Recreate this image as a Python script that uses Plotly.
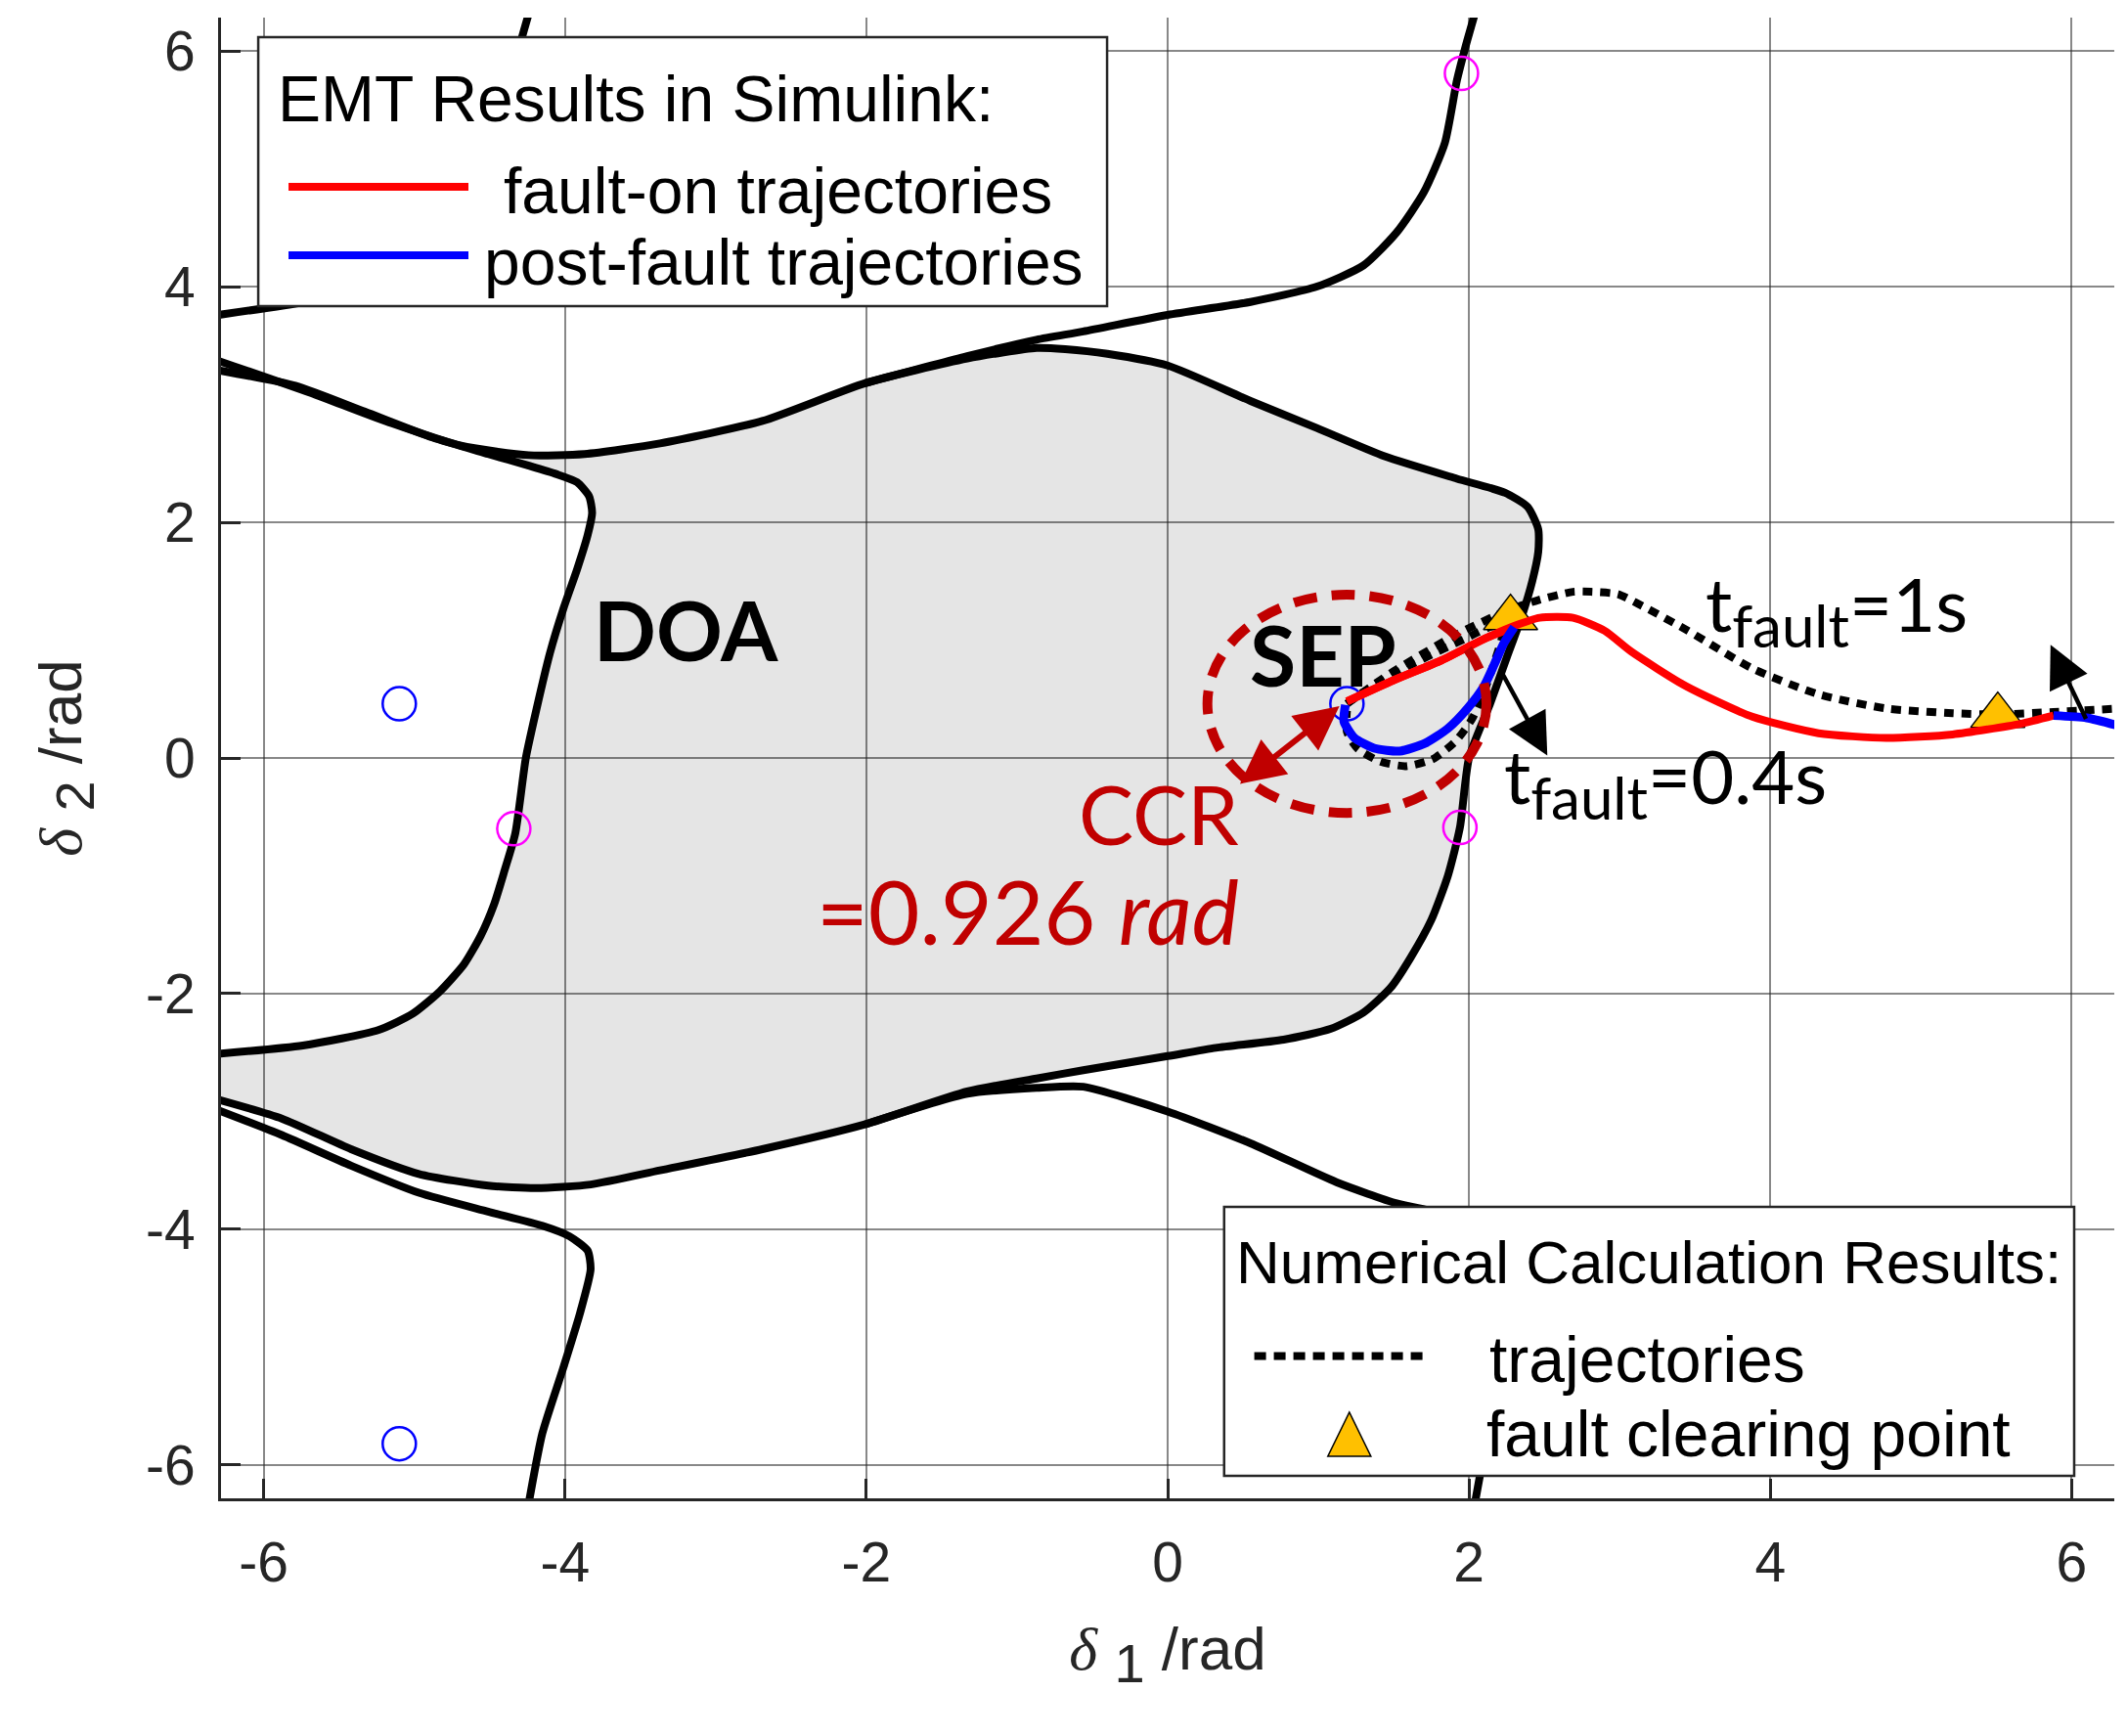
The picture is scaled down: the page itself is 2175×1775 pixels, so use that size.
import plotly.graph_objects as go

# ---- data (rad) ----
TICKS = [-6, -4, -2, 0, 2, 4, 6]
TICK_TEXT = ["-6", "-4", "-2", "0", "2", "4", "6"]
LIM = 6.2832

# DOA boundary, left branch (bottom-left edge -> top-left edge)
doa_a_x = [-6.30, -5.74, -5.24, -5.01, -4.83, -4.67, -4.56, -4.47, -4.40, -4.33, -4.26,
           -4.19, -4.10, -4.01, -3.92, -3.85, -3.82, -3.84, -3.92, -4.06, -4.24, -4.51,
           -4.88, -5.33, -5.79, -6.30]
doa_a_y = [-2.51, -2.44, -2.31, -2.17, -1.98, -1.75, -1.51, -1.24, -0.95, -0.64, 0.00,
           0.41, 0.89, 1.27, 1.60, 1.89, 2.08, 2.22, 2.34, 2.41, 2.48, 2.58,
           2.72, 2.94, 3.16, 3.29]

# DOA boundary, main branch (top-left edge -> right bulge -> bottom-left edge)
doa_b_x = [-6.30, -5.65, -5.15, -4.69, -4.24, -3.87, -3.37, -2.69, -2.01, -1.33, -0.87,
           -0.68, -0.40, 0.00, 0.55, 0.99, 1.44, 1.92, 2.24, 2.39, 2.46, 2.46, 2.42,
           2.35, 2.25, 2.14, 2.00, 1.94, 1.86, 1.75, 1.61, 1.48, 1.30, 1.08, 0.77,
           0.32, 0.00, -0.56, -0.87, -1.33, -2.01, -2.69, -3.37, -3.83, -4.19, -4.51,
           -4.97, -5.42, -5.88, -6.30]
doa_b_y = [3.37, 3.08, 2.84, 2.65, 2.57, 2.58, 2.67, 2.86, 3.18, 3.39, 3.48,
           3.47, 3.43, 3.33, 3.03, 2.80, 2.56, 2.37, 2.25, 2.13, 1.94, 1.75, 1.50,
           1.20, 0.85, 0.46, 0.00, -0.59, -1.00, -1.375, -1.70, -1.95, -2.16, -2.30, -2.39,
           -2.46, -2.53, -2.65, -2.72, -2.83, -3.11, -3.32, -3.50, -3.62, -3.65, -3.63,
           -3.53, -3.32, -3.06, -2.90]

# other stability-boundary branches
top_right_x = [-2.01, -1.33, -0.87, -0.56, 0.00, 0.55, 0.99, 1.30, 1.52, 1.70, 1.84, 1.92, 1.98, 2.04]
top_right_y = [3.18, 3.41, 3.55, 3.62, 3.76, 3.87, 4.00, 4.18, 4.46, 4.80, 5.22, 5.75, 6.05, 6.32]
top_left_x = [-6.30, -5.73, -5.29, -4.98, -4.76, -4.58, -4.44, -4.36, -4.30, -4.24]
top_left_y = [3.76, 3.87, 4.00, 4.18, 4.46, 4.80, 5.22, 5.75, 6.05, 6.32]
bot_right_x = [-2.01, -1.33, -0.87, -0.56, 0.00, 0.55, 1.12, 1.52, 1.77, 2.31, 2.45, 2.38, 2.27, 2.13, 2.04]
bot_right_y = [-3.11, -2.85, -2.80, -2.79, -3.00, -3.27, -3.60, -3.78, -3.85, -4.06, -4.34, -4.71, -5.17, -5.73, -6.32]
bot_left_x = [-6.30, -5.88, -5.42, -4.97, -4.51, -4.15, -3.97, -3.85, -3.83, -3.90, -4.01, -4.15, -4.24]
bot_left_y = [-2.99, -3.20, -3.46, -3.69, -3.85, -3.97, -4.06, -4.18, -4.34, -4.71, -5.17, -5.73, -6.32]

# equilibrium points
sep_x, sep_y = 1.19, 0.46
ccr = 0.926
stable_x = [1.19, -5.10, -5.10]
stable_y = [0.46, 0.46, -5.82]
unstable_x = [1.95, -4.34, 1.94]
unstable_y = [5.81, -0.60, -0.59]

# EMT results: fault-on (red) and post-fault (blue)
faulton_04_x = [1.19, 1.50, 1.82, 2.10, 2.30]
faulton_04_y = [0.48, 0.66, 0.83, 1.01, 1.11]
faulton_1_x = [1.19, 1.50, 1.82, 2.10, 2.30, 2.47, 2.69, 2.90, 3.08, 3.44, 3.88, 4.32, 4.77, 5.21, 5.66, 5.88]
faulton_1_y = [0.48, 0.66, 0.83, 1.01, 1.12, 1.19, 1.19, 1.08, 0.90, 0.61, 0.35, 0.21, 0.17, 0.20, 0.29, 0.36]
post_04_x = [2.30, 2.23, 2.17, 2.10, 1.99, 1.86, 1.71, 1.54, 1.37, 1.24, 1.17, 1.18]
post_04_y = [1.11, 0.97, 0.80, 0.61, 0.42, 0.25, 0.125, 0.058, 0.083, 0.17, 0.31, 0.45]
post_1_x = [5.88, 6.10, 6.32]
post_1_y = [0.36, 0.34, 0.27]

# numerical calculation results
num_04_x = [1.19, 1.30, 1.60, 1.97, 2.17, 2.22, 2.17, 2.10, 2.02, 1.91, 1.76, 1.58, 1.41, 1.26, 1.19, 1.19]
num_04_y = [0.46, 0.56, 0.78, 1.01, 1.12, 1.05, 0.82, 0.56, 0.33, 0.14, -0.01, -0.07, -0.03, 0.08, 0.22, 0.40]
num_1_x = [1.19, 1.48, 1.92, 2.25, 2.46, 2.69, 2.81, 2.99, 3.12, 3.44, 3.88, 4.32, 4.77, 5.21, 5.51, 5.88, 6.32]
num_1_y = [0.46, 0.72, 1.05, 1.25, 1.34, 1.41, 1.41, 1.39, 1.31, 1.09, 0.76, 0.54, 0.42, 0.38, 0.37, 0.39, 0.42]
clear_x = [2.276, 5.51]
clear_y = [1.19, 0.36]

# annotation arrows (tail, tip)
ccr_arrow_x = [1.15, 0.48]
ccr_arrow_y = [0.45, -0.22]
arrow_04_x = [2.22, 2.52]
arrow_04_y = [0.72, 0.02]
arrow_1_x = [6.10, 5.86]
arrow_1_y = [0.32, 0.96]

RED = "#FF0000"
BLUE = "#0000FF"
DARKRED = "#C00000"
GOLD = "#FFC000"
TXT = "#262626"

fig = go.Figure()

# DOA shaded region
fig.add_trace(go.Scatter(
    x=doa_a_x + doa_b_x, y=doa_a_y + doa_b_y, mode="lines", fill="toself",
    fillcolor="rgba(0,0,0,0.1)", line=dict(width=0), hoverinfo="skip", showlegend=False,
))

for bx, by in [(doa_a_x, doa_a_y), (doa_b_x, doa_b_y), (top_right_x, top_right_y),
               (top_left_x, top_left_y), (bot_right_x, bot_right_y), (bot_left_x, bot_left_y)]:
    fig.add_trace(go.Scatter(
        x=bx, y=by, mode="lines", line=dict(color="black", width=8, shape="spline", smoothing=0.6),
        hoverinfo="skip", showlegend=False,
    ))

fig.add_trace(go.Scatter(
    x=stable_x, y=stable_y, mode="markers",
    marker=dict(symbol="circle-open", size=34, color=BLUE, line=dict(width=2.5)),
    showlegend=False,
))
fig.add_trace(go.Scatter(
    x=unstable_x, y=unstable_y, mode="markers",
    marker=dict(symbol="circle-open", size=34, color="#FF00FF", line=dict(width=2.5)),
    showlegend=False,
))

for nx_, ny_ in [(num_04_x, num_04_y), (num_1_x, num_1_y)]:
    fig.add_trace(go.Scatter(
        x=nx_, y=ny_, mode="lines",
        line=dict(color="black", width=8, dash="10px,8px", shape="spline", smoothing=0.6),
        showlegend=False,
    ))

fig.add_trace(go.Scatter(
    x=clear_x, y=clear_y, mode="markers",
    marker=dict(symbol="triangle-up", size=48, color=GOLD, line=dict(color="black", width=1.5)),
    showlegend=False,
))

for fx, fy in [(faulton_1_x, faulton_1_y), (faulton_04_x, faulton_04_y)]:
    fig.add_trace(go.Scatter(
        x=fx, y=fy, mode="lines", line=dict(color=RED, width=8, shape="spline", smoothing=0.6),
        showlegend=False,
    ))
for px_, py_ in [(post_04_x, post_04_y), (post_1_x, post_1_y)]:
    fig.add_trace(go.Scatter(
        x=px_, y=py_, mode="lines", line=dict(color=BLUE, width=9, shape="spline", smoothing=0.6),
        showlegend=False,
    ))

# arrows
fig.add_annotation(x=ccr_arrow_x[1], y=ccr_arrow_y[1], ax=ccr_arrow_x[0], ay=ccr_arrow_y[0],
                   xref="x", yref="y", axref="x", ayref="y",
                   text="", showarrow=True, arrowhead=2, arrowside="end+start",
                   arrowsize=1.5, arrowwidth=6, arrowcolor=DARKRED)
for arx, ary in [(arrow_04_x, arrow_04_y), (arrow_1_x, arrow_1_y)]:
    fig.add_annotation(x=arx[1], y=ary[1], ax=arx[0], ay=ary[0],
                       xref="x", yref="y", axref="x", ayref="y",
                       text="", showarrow=True, arrowhead=2, arrowsize=1.9,
                       arrowwidth=4.5, arrowcolor="black")

# critical clearing radius circle
fig.add_shape(type="circle", xref="x", yref="y", layer="above",
              x0=sep_x - ccr, x1=sep_x + ccr, y0=sep_y - ccr, y1=sep_y + ccr,
              line=dict(color=DARKRED, width=10, dash="24px,15px"))

# ---- legend boxes (drawn by hand, MATLAB style) ----
fig.add_shape(type="rect", xref="x", yref="y", layer="above",
              x0=-6.036, x1=-0.402, y0=3.835, y1=6.117,
              fillcolor="white", line=dict(color=TXT, width=2.5))
fig.add_shape(type="line", xref="x", yref="y", layer="above",
              x0=-5.835, x1=-4.641, y0=4.847, y1=4.847, line=dict(color=RED, width=8))
fig.add_shape(type="line", xref="x", yref="y", layer="above",
              x0=-5.835, x1=-4.641, y0=4.266, y1=4.266, line=dict(color=BLUE, width=8))

fig.add_shape(type="rect", xref="x", yref="y", layer="above",
              x0=0.375, x1=6.017, y0=-6.092, y1=-3.810,
              fillcolor="white", line=dict(color=TXT, width=2.5))
fig.add_shape(type="line", xref="x", yref="y", layer="above",
              x0=0.575, x1=1.717, y0=-5.076, y1=-5.076,
              line=dict(color="black", width=8, dash="12px,8px"))
fig.add_shape(type="path", xref="x", yref="y", layer="above",
              xsizemode="pixel", ysizemode="pixel", xanchor=1.206, yanchor=-5.744,
              path="M -22,-22 L 22,-22 L 0,23 Z",
              fillcolor=GOLD, line=dict(color="black", width=1.5))

LEG_FAMILY = "Liberation Sans, Arial"
legend_texts = [
    ("EMT Results in Simulink:", -5.92, 5.594, 66),
    ("fault-on trajectories", -4.42, 4.814, 66),
    ("post-fault trajectories", -4.55, 4.208, 66),
    ("Numerical Calculation Results:", 0.44, -4.275, 62),
    ("trajectories", 2.12, -5.104, 66),
    ("fault clearing point", 2.10, -5.736, 66),
]
for txt, tx, ty, fs in legend_texts:
    fig.add_annotation(x=tx, y=ty, xref="x", yref="y", text=txt, showarrow=False,
                       xanchor="left", yanchor="middle",
                       font=dict(family=LEG_FAMILY, size=fs, color="black"))

# ---- labels ----
LBL = "Lato, Open Sans, sans-serif"
SUB = "<sub><span style=\"font-size:60px\">fault</span></sub>"
fig.add_annotation(x=-3.20, y=1.095, text="<b>DOA</b>", showarrow=False,
                   font=dict(family=LBL, size=84, color="black"))
fig.add_annotation(x=1.03, y=0.88, text="<b>SEP</b>", showarrow=False,
                   font=dict(family=LBL, size=86, color="black"))
fig.add_annotation(x=0.49, y=-0.465, text="CCR", showarrow=False, xanchor="right",
                   font=dict(family=LBL, size=84, color=DARKRED))
fig.add_annotation(x=0.49, y=-1.287, text="=0.926 <i>rad</i>", showarrow=False, xanchor="right",
                   font=dict(family=LBL, size=91, color=DARKRED))
fig.add_annotation(x=3.56, y=1.26, text="t" + SUB + "=1s", showarrow=False, xanchor="left",
                   font=dict(family=LBL, size=76, color="black"))
fig.add_annotation(x=2.22, y=-0.20, text="t" + SUB + "=0.4s", showarrow=False, xanchor="left",
                   font=dict(family=LBL, size=76, color="black"))

axis_common = dict(
    range=[-LIM, LIM], tickvals=TICKS, ticktext=TICK_TEXT,
    showgrid=True, gridcolor="rgba(38,38,38,0.55)", gridwidth=2, zeroline=False,
    showline=True, linecolor=TXT, linewidth=3, mirror=False,
    ticks="inside", ticklen=20, tickwidth=3, tickcolor=TXT,
    tickfont=dict(family="Liberation Sans, Arial", size=57, color=TXT),
)
DELTA = "<span style=\"font-family:Liberation Serif\"><i>δ</i></span>"
fig.update_xaxes(**axis_common, ticklabelstandoff=14,
                 title=dict(text=DELTA + " <sub><span style=\"font-size:56px\">1</span></sub> /rad",
                            font=dict(family="Liberation Sans, Arial", size=62, color=TXT), standoff=36))
fig.update_yaxes(**axis_common, ticklabelstandoff=12,
                 title=dict(text=DELTA + " <sub><span style=\"font-size:56px\">2</span></sub> /rad",
                            font=dict(family="Liberation Sans, Arial", size=62, color=TXT), standoff=46))

fig.update_layout(
    width=2175, height=1775,
    margin=dict(l=218, r=21, t=10, b=251),
    paper_bgcolor="white", plot_bgcolor="white",
    showlegend=False,
)

fig.write_html("out.html")
